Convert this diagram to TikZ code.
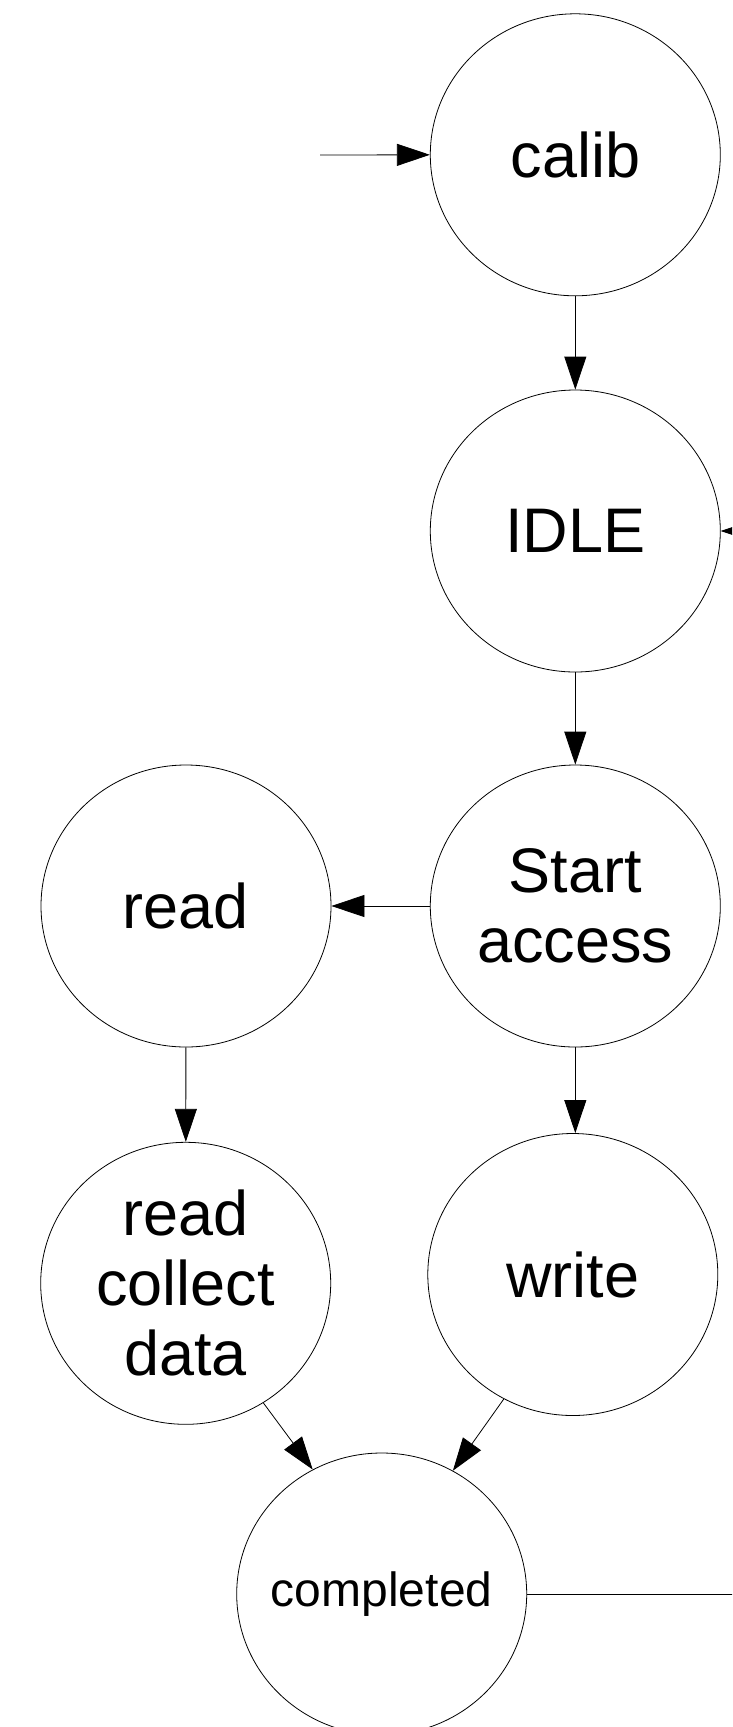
\documentclass[tikz,border=0pt]{standalone}
\usepackage{fontspec}
\setmainfont{Liberation Sans}
\usetikzlibrary{arrows.meta,shapes.geometric}
\begin{document}
\begin{tikzpicture}[x=1pt,y=-1pt,
  st/.style={draw, ellipse, line width=0.8pt, minimum width=290pt, minimum height=282pt, inner sep=0pt},
  lbl/.style={align=center, font=\fontsize{63}{70}\selectfont, inner sep=0pt},
  smalllbl/.style={align=center, font=\fontsize{48}{55}\selectfont, inner sep=0pt},
  arr/.style={line width=0.8pt, -{Triangle[length=33pt,width=22pt]}},
  ln/.style={line width=0.8pt}]
\clip (0,0) rectangle (732,1727);
\node[st] (calib) at (575.3,154.8) {};
\node[lbl] (calibT) at (calib.center) {calib};
\node[st] (idle) at (575.3,531) {};
\node[lbl] (idleT) at (idle.center) {IDLE};
\node[st] (start) at (575.3,906) {};
\node[lbl] (startT) at (start.center) {Start\\access};
\node[st] (read) at (186,906) {};
\node[lbl] (readT) at (read.center) {read};
\node[st] (collect) at (185.7,1283.3) {};
\node[lbl] (collectT) at (collect.center) {read\\collect\\data};
\node[st] (write) at (572.8,1274.5) {};
\node[lbl] (writeT) at (write.center) {write};
\node[st] (done) at (381.7,1594) {};
\node[smalllbl] (doneT) at (done.center) {completed};
\coordinate (entry) at (320,155);
\coordinate (idlein) at (800,531);
\coordinate (doneout) at (800,1594);
\draw[arr] (entry) -- (calib.west);
\draw[arr] (calib) -- (idle);
\draw[arr] (idlein) -- (idle.east);
\draw[arr] (idle) -- (start);
\draw[arr] (start) -- (read);
\draw[arr] (read) -- (collect);
\draw[arr] (start.south) -- (start.south |- write.north);
\draw[arr] (collect.-57) -- (done.119);
\draw[arr] (write.-119) -- (done.60);
\draw[ln] (done.east) -- (doneout);
\end{tikzpicture}
\end{document}
